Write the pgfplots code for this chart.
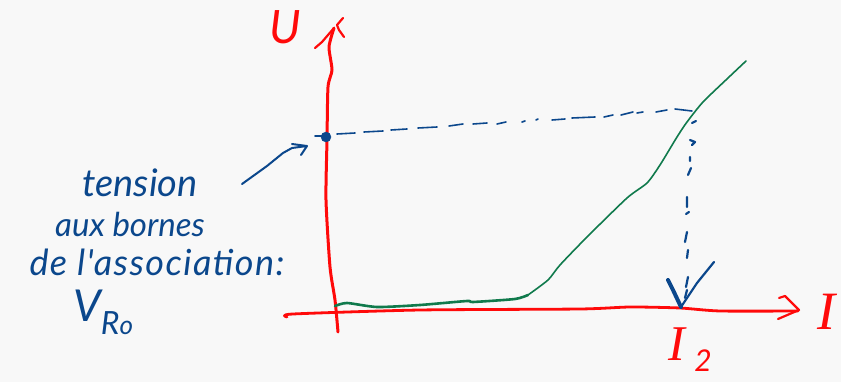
\documentclass[border=0pt]{standalone}
\usepackage{pgfplots}
\pgfplotsset{compat=1.18}
\usepackage{fontspec}
\setmainfont{Lato}
\newfontfamily\serifhand{Liberation Serif}
\newfontfamily\spacedhand[LetterSpace=4]{Lato}
\definecolor{bgc}{HTML}{F8F8F8}
\definecolor{penred}{HTML}{FF0A0A}
\definecolor{penblue}{HTML}{0B478C}
\definecolor{pengreen}{HTML}{107A4C}
\newcommand{\hand}[1]{\fontsize{#1}{#1}\selectfont\itshape}
\begin{document}
\begin{tikzpicture}
\begin{axis}[
    scale only axis, width=841pt, height=382pt,
    xmin=0, xmax=841, ymin=0, ymax=382, y dir=reverse,
    axis line style={draw=none}, ticks=none,
    axis background/.style={fill=bgc},
    unbounded coords=jump,
    every axis plot/.append style={line cap=round, line join=round, no markers},
    every node/.append style={inner sep=0pt},
  ]
  % vertical axis (U)
  \addplot[penred, line width=3pt, smooth, tension=0.4] coordinates {
    (338,332)(335,300)(330,267)(326,200)(327,140)(328,87)(332,70)(329,47)(334,28)};
  \addplot[penred, line width=2.2pt] coordinates {
    (315,48)(322,42)(334,28)(nan,nan)(343,18)(337,25)(339,30)(344,37)};
  % horizontal axis (I)
  \addplot[penred, line width=2.8pt, smooth, tension=0.4] coordinates {
    (287,317)(293,314)(420,310)(580,309)(630,307)(680,308)(720,311)(798,311)};
  \addplot[penred, line width=2.2pt] coordinates {
    (779,298)(785,296)(799,310)(778,319)};
  % characteristic
  \addplot[pengreen, line width=2.6pt, smooth, tension=0.4] coordinates {
    (335,306)(347,303)(377,307)(420,305)(467,301)(473,302)(515,299)(528,295)};
  \addplot[pengreen, line width=1.6pt, smooth, tension=0.4] coordinates {
    (528,295)(548,280)(560,265)(587,237)(627,198)(647,183)(660,165)(677,137)
    (687,122)(703,102)(728,78)(746,61)};
  % dashes to the curve
  \addplot[penblue, line width=1.6pt] coordinates {
    (315,136)(322,136)(nan,nan)(337,134)(355,133)(nan,nan)(364,132)(383,131)(nan,nan)
    (391,130)(407,129)(nan,nan)(418,128)(437,127)(nan,nan)(449,126)(463,124)(nan,nan)
    (473,124)(487,123)(nan,nan)(497,124)(506,122)(nan,nan)(522,122)(525,121)(nan,nan)
    (536,120)(538,119)(nan,nan)(552,120)(565,119)(nan,nan)(572,118)(595,117)(nan,nan)
    (604,117)(613,115)(nan,nan)(621,115)(633,112)(nan,nan)(637,113)(643,112)(nan,nan)
    (656,112)(667,110)(nan,nan)(675,109)(692,111)};
  % dashes down to I2
  \addplot[penblue, line width=2.2pt] coordinates {
    (692,123)(696,121)(nan,nan)(690,140)(695,142)(692,145)(nan,nan)(690,157)(690,161)(nan,nan)
    (691,168)(688,175)(nan,nan)(687,197)(687,207)(nan,nan)(686,214)(689,212)(nan,nan)
    (687,232)(685,242)(nan,nan)(688,250)(687,258)(nan,nan)(688,277)(686,287)(nan,nan)
    (687,290)(685,298)};
  % arrow head at I2
  \addplot[penblue, line width=4pt] coordinates {(668,280)(673,290)(681,307)};
  \addplot[penblue, line width=2.2pt] coordinates {(681,307)(697,283)(714,262)};
  % arrow to the point
  \addplot[penblue, line width=2pt] coordinates {
    (242,184)(267,166)(283,153)(292,148)(307,146)(nan,nan)(292,144)(307,146)(301,155)};
  \addplot[only marks, mark=*, mark size=5pt, penblue, mark options={solid}] coordinates {(326,137)};
  % labels
  \node[penred] at (axis cs:285,27) {\hand{46}U};
  \node[penred] at (axis cs:826,312) {\serifhand\hand{54}I};
  \node[penred] at (axis cs:677,344) {\serifhand\hand{50}I};
  \node[penred] at (axis cs:703,361) {\hand{30}2};
  \node[penblue] at (axis cs:140,183) {\hand{38}tension};
  \node[penblue] at (axis cs:130,224) {\hand{33}aux bornes};
  \node[penblue] at (axis cs:157,262) {\spacedhand\hand{36}de l'association:};
  \node[penblue] at (axis cs:87,306) {\hand{44}V};
  \node[penblue] at (axis cs:117,323) {\hand{32}R\hand{26}o};
\end{axis}
\end{tikzpicture}
\end{document}
